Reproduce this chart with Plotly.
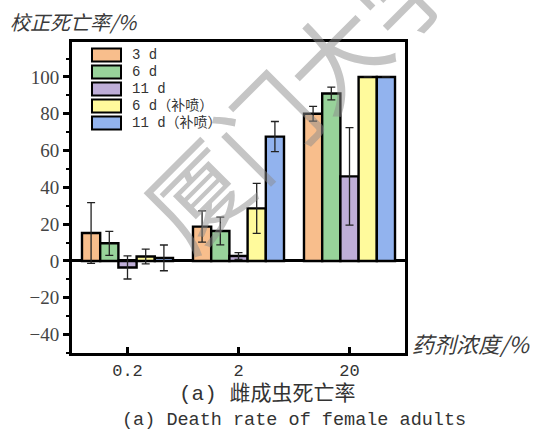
import plotly.graph_objects as go

# Concentration groups on the x axis
concentrations = ["0.2", "2", "20"]

# Series (days after treatment) and their fills
series_names = ["3 d", "6 d", "11 d", "6 d（补喷）", "11 d（补喷）"]
series_colors = ["#F8BE8C", "#98D39A", "#BFAED8", "#FFFA9C", "#92B3EE"]

# Corrected mortality (%) per concentration, with standard deviations
mort_3d = [15.2, 18.7, 80.0]
err_3d = [16.5, 8.5, 4.0]
mort_6d = [9.6, 16.3, 91.0]
err_6d = [6.5, 7.5, 3.5]
mort_11d = [-3.5, 2.7, 46.0]
err_11d = [6.3, 1.8, 26.5]
mort_6d_re = [2.4, 28.6, 100.0]
err_6d_re = [4.0, 13.6, 0.0]
mort_11d_re = [1.7, 67.6, 100.0]
err_11d_re = [7.0, 8.2, 0.0]

values = [mort_3d, mort_6d, mort_11d, mort_6d_re, mort_11d_re]
errors = [err_3d, err_6d, err_11d, err_6d_re, err_11d_re]

y_ticks = [-40, -20, 0, 20, 40, 60, 80, 100]

W, H = 533, 432
L, R, T, B = 72, 128, 42, 79
PW, PH = W - L - R, H - T - B


def px(x):
    return (x - L) / PW


def py(y):
    return (H - B - y) / PH


fig = go.Figure()
for name, color, vals, errs in zip(series_names, series_colors, values, errors):
    fig.add_trace(go.Bar(
        x=concentrations, y=vals, name=name,
        marker=dict(color=color, line=dict(color="black", width=2.4)),
        error_y=dict(type="data", array=errs, visible=True,
                     color="#222222", thickness=1.3, width=4),
        showlegend=False,
    ))

mono = "Liberation Mono, Noto Sans CJK SC, monospace"
cjk = "Noto Sans CJK SC, sans-serif"

annotations = []
shapes = []

# Legend drawn as outlined swatches with labels
for i, (name, color) in enumerate(zip(series_names, series_colors)):
    yc = 55 + 17 * i
    shapes.append(dict(type="rect", xref="paper", yref="paper",
                       x0=px(92), x1=px(121), y0=py(yc + 6.5), y1=py(yc - 6.5),
                       fillcolor=color, line=dict(color="black", width=2)))
    annotations.append(dict(x=px(130), y=py(yc), xref="paper", yref="paper",
                            text=name, showarrow=False, xanchor="left", yanchor="middle",
                            font=dict(family=mono, size=14, color="#333333")))

# Axis titles
annotations.append(dict(x=px(8), y=py(22), xref="paper", yref="paper",
                        text="<i>校正死亡率/%</i>", showarrow=False,
                        xanchor="left", yanchor="middle",
                        font=dict(family=cjk, size=20, color="#3a3a3a")))
annotations.append(dict(x=px(410), y=py(343), xref="paper", yref="paper",
                        text="<i>药剂浓度/%</i>", showarrow=False,
                        xanchor="left", yanchor="middle",
                        font=dict(family=cjk, size=22, color="#3a3a3a")))

# Caption lines
annotations.append(dict(x=px(267), y=py(394), xref="paper", yref="paper",
                        text="(a) 雌成虫死亡率", showarrow=False,
                        xanchor="center", yanchor="middle",
                        font=dict(family=mono, size=21, color="#333333")))
annotations.append(dict(x=px(294), y=py(420), xref="paper", yref="paper",
                        text="(a) Death rate of female adults", showarrow=False,
                        xanchor="center", yanchor="middle",
                        font=dict(family=mono, size=18.5, color="#333333")))

# Institutional watermark
annotations.append(dict(x=px(298), y=py(88), xref="paper", yref="paper",
                        text="厦门大学", showarrow=False, textangle=-45,
                        xanchor="center", yanchor="middle",
                        font=dict(family=cjk, size=98, color="rgba(140,140,140,0.5)")))

fig.update_layout(
    width=W, height=H,
    margin=dict(l=L, r=R, t=T, b=B, pad=0),
    paper_bgcolor="white", plot_bgcolor="white",
    barmode="group", bargap=0.18, bargroupgap=0,
    shapes=shapes, annotations=annotations,
    showlegend=False,
)
fig.update_xaxes(
    type="category", range=[-0.5, 2.5],
    showline=True, linecolor="black", linewidth=3, mirror=True,
    ticks="inside", ticklen=6, tickwidth=3, tickcolor="black",
    showgrid=False, zeroline=False,
    tickfont=dict(family=mono, size=17, color="#333333"),
    ticklabelstandoff=0,
)
fig.update_yaxes(
    range=[-50, 119], tickvals=y_ticks,
    showline=True, linecolor="black", linewidth=3, mirror=True,
    ticks="outside", ticklen=6, tickwidth=3, tickcolor="black",
    minor=dict(ticks="outside", ticklen=3, tickwidth=2, tickcolor="black", dtick=10, showgrid=False),
    showgrid=False,
    zeroline=True, zerolinecolor="black", zerolinewidth=3,
    tickfont=dict(family="Liberation Serif, serif", size=19, color="#444444"),
)

fig.write_html("out.html")
